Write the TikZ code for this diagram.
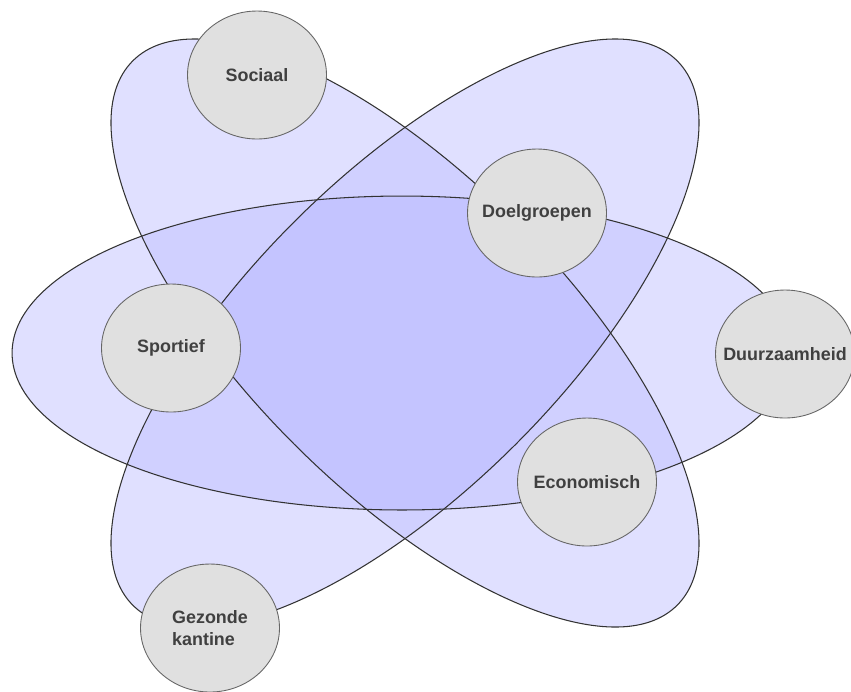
\documentclass[tikz,border=0pt]{standalone}
\usepackage{fontspec}
\setmainfont{Liberation Sans}
\usetikzlibrary{shapes.geometric}
\definecolor{ringone}{RGB}{224,224,255}
\definecolor{ringtwo}{RGB}{208,208,255}
\definecolor{ringthree}{RGB}{196,196,255}
\newcommand\ringflat{(402,353) ellipse [x radius=7.8cm, y radius=3.14cm]}
\newcommand\ringtilt{(405,333) ellipse [x radius=7.7cm, y radius=3.14cm]}

\begin{document}
\begin{tikzpicture}[x=0.02cm, y=-0.02cm,
  tiltdown/.style={rotate around={-45:(405,333)}},
  tiltup/.style={rotate around={45:(405,333)}},
  ringline/.style={draw=black!80, line width=0.6pt},
  theme/.style={ellipse, draw=black!60, line width=0.5pt, fill=black!12, minimum width=2.78cm, minimum height=2.56cm, inner sep=0pt, inner xsep=-0.3cm, align=left, font=\fontsize{10.2}{13}\selectfont\bfseries, text=black!75}]
  \useasboundingbox (0,0) rectangle (851,691);
  % rings
  \fill[ringone] \ringflat;
  \fill[ringone, tiltdown] \ringtilt;
  \fill[ringone, tiltup] \ringtilt;
  \begin{scope}
    \clip \ringflat;
    \fill[ringtwo, tiltdown] \ringtilt;
    \fill[ringtwo, tiltup] \ringtilt;
  \end{scope}
  \begin{scope}
    \clip[tiltdown] \ringtilt;
    \fill[ringtwo, tiltup] \ringtilt;
  \end{scope}
  \begin{scope}
    \clip \ringflat;
    \clip[tiltdown] \ringtilt;
    \fill[ringthree, tiltup] \ringtilt;
  \end{scope}
  \draw[ringline] \ringflat;
  \draw[ringline, tiltdown] \ringtilt;
  \draw[ringline, tiltup] \ringtilt;
  % themes
  \node (sociaal) [theme] at (257,75) {Sociaal};
  \node (doelgroepen) [theme] at (537,213) {Doelgroepen};
  \node (sportief) [theme] at (171,348) {Sportief};
  \node (duurzaamheid) [theme] at (785,354) {Duurzaamheid};
  \node (economisch) [theme] at (587,482) {Economisch};
  \node (kantine) [theme] at (210,628) {Gezonde\\kantine};
\end{tikzpicture}
\end{document}
